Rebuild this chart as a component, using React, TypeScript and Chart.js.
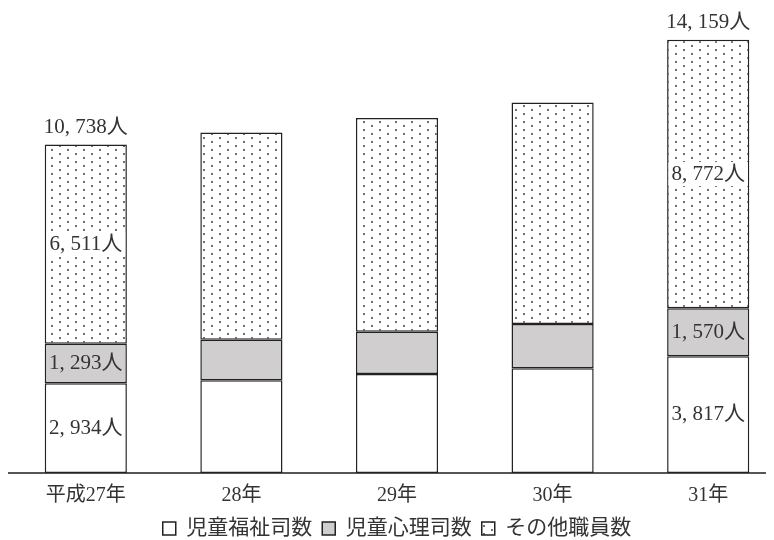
import React, { useEffect, useRef } from 'react';
import { Chart, registerables } from 'chart.js';

Chart.register(...registerables);

const categories = ['平成27年', '28年', '29年', '30年', '31年'];
const seriesNames = ['児童福祉司数', '児童心理司数', 'その他職員数'];
const welfareOfficers = [2934, 3030, 3235, 3426, 3817];
const psychologists = [1293, 1329, 1381, 1447, 1570];
const otherStaff = [6511, 6769, 6992, 7235, 8772];
const labeledIndices = [0, 4];
const clearBehindLabel = [false, false, true];
const yMax = 15200;

const FONT = '"Liberation Serif", "Noto Sans CJK JP", serif';
const TEXT = '#333333';

function makeDots(): CanvasPattern | string {
  const c = document.createElement('canvas');
  c.width = 16;
  c.height = 8;
  const g = c.getContext('2d');
  if (!g) return '#eeeeee';
  g.fillStyle = '#ffffff';
  g.fillRect(0, 0, 16, 8);
  g.fillStyle = '#707070';
  g.fillRect(3, 1, 2, 2);
  g.fillRect(11, 5, 2, 2);
  return g.createPattern(c, 'repeat') || '#eeeeee';
}

const fmt = (n: number) => n.toLocaleString('en-US').replace(/,/g, ', ') + '人';

const labelPlugin = {
  id: 'segLabels',
  afterDatasetsDraw(chart: any) {
    const ctx = chart.ctx;
    ctx.save();
    ctx.font = `21px ${FONT}`;
    ctx.textAlign = 'center';
    ctx.textBaseline = 'middle';
    const n = chart.data.datasets.length;
    labeledIndices.forEach((idx) => {
      let total = 0;
      chart.data.datasets.forEach((ds: any, di: number) => {
        const v = ds.data[idx] as number;
        total += v;
        const bar = chart.getDatasetMeta(di).data[idx];
        const cy = (bar.y + bar.base) / 2;
        const text = fmt(v);
        if (clearBehindLabel[di]) {
          const w = ctx.measureText(text).width;
          ctx.fillStyle = '#ffffff';
          ctx.fillRect(bar.x - w / 2 - 3, cy - 12, w + 6, 24);
        }
        ctx.fillStyle = TEXT;
        ctx.fillText(text, bar.x, cy);
      });
      const top = chart.getDatasetMeta(n - 1).data[idx];
      ctx.fillStyle = TEXT;
      ctx.fillText(fmt(total), top.x, top.y - 17);
    });
    ctx.restore();
  },
};

export default function App() {
  const ref = useRef<HTMLCanvasElement | null>(null);
  useEffect(() => {
    if (!ref.current) return;
    const dots = makeDots();
    const common = { borderColor: '#222222', borderWidth: 1.5, borderSkipped: false as const, categoryPercentage: 1, barPercentage: 0.528 };
    const chart = new Chart(ref.current, {
      type: 'bar',
      data: {
        labels: categories,
        datasets: [
          { label: seriesNames[0], data: welfareOfficers, backgroundColor: '#ffffff', ...common },
          { label: seriesNames[1], data: psychologists, backgroundColor: '#d0cecf', ...common },
          { label: seriesNames[2], data: otherStaff, backgroundColor: dots as any, ...common },
        ],
      },
      options: {
        responsive: true,
        maintainAspectRatio: false,
        animation: false,
        layout: { padding: { top: 0, left: 0, right: 0, bottom: 0 } },
        scales: {
          x: {
            stacked: true,
            grid: { display: false, drawTicks: false },
            border: { display: true, color: '#555555', width: 2 },
            ticks: { color: TEXT, padding: 13, font: { size: 20, family: FONT, lineHeight: 1 } },
            afterFit: (scale: any) => {
              scale.height = 35;
            },
          },
          y: { stacked: true, display: false, min: 0, max: yMax },
        },
        plugins: {
          legend: {
            position: 'bottom',
            labels: { color: TEXT, boxWidth: 13, boxHeight: 13, padding: 10, font: { size: 21, family: FONT } },
          },
          tooltip: { enabled: false },
        },
      },
      plugins: [labelPlugin],
    });
    return () => chart.destroy();
  }, []);
  return (
    <div style={{ width: 766, height: 532, overflow: 'hidden' }}>
      <div style={{ width: 778, height: 541, position: 'relative' }}>
        <canvas ref={ref} />
      </div>
    </div>
  );
}
